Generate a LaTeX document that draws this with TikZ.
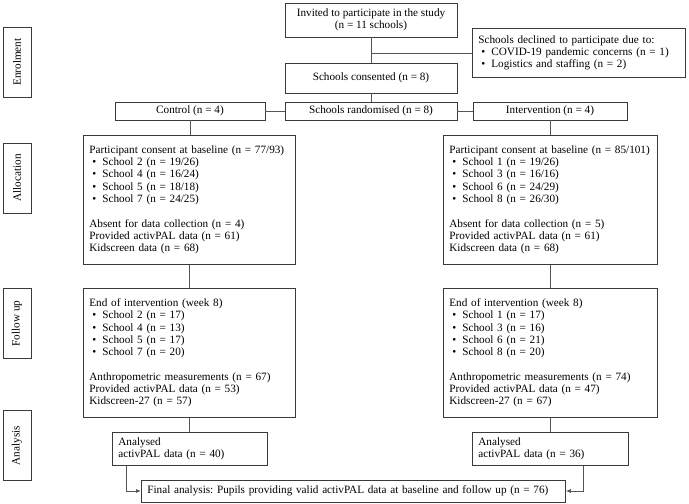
\documentclass[tikz,border=0pt]{standalone}
\usepackage{fontspec}
\setmainfont{Liberation Serif}
\usepackage{xcolor}
\usepackage{tikz}
\usetikzlibrary{arrows.meta,positioning,calc}
\definecolor{edgegray}{HTML}{3A3A3A}
\definecolor{linkgray}{HTML}{555555}
\newcommand{\bul}[1]{\makebox[13pt][l]{\hspace{3pt}\textbullet}#1}
\frenchspacing
\tikzset{
  flowbox/.style={
    rectangle, draw=edgegray, line width=0.8pt, fill=white,
    font=\fontsize{11.2}{12.3}\selectfont, align=center,
    minimum width=#1, inner sep=2pt
  },
  flowbox/.default=172pt,
  listbox/.style={
    rectangle, draw=edgegray, line width=0.8pt, fill=white,
    font=\fontsize{11.2}{12.3}\selectfont, align=left,
    text width=#1, inner xsep=6pt, inner ysep=3pt, anchor=north west
  },
  listbox/.default=200pt,
  stagebox/.style={
    rectangle, draw=edgegray, line width=0.8pt, rotate=90,
    minimum width=70pt, minimum height=28pt,
    font=\fontsize{11.2}{12}\selectfont
  },
  link/.style={draw=linkgray, line width=0.8pt},
  linkarrow/.style={link, -{Latex[length=5pt,width=4pt]}},
}

\begin{document}
\begin{tikzpicture}[x=1pt, y=-1pt]
  \useasboundingbox (0,0) rectangle (689,504);
  % stages
  \node[stagebox] (enrol)  at (17,62)    {Enrolment};
  \node[stagebox] (alloc)  at (17,178)   {Allocation};
  \node[stagebox] (follow) at (17,323.5) {Follow up};
  \node[stagebox] (analys) at (17,445.5) {Analysis};
  % enrolment
  \node[flowbox, minimum height=34pt] (invited) at (371,20) {Invited to participate in the study\\(n = 11 schools)};
  \node[listbox=201pt, minimum height=49pt] (declined) at (472,28) {Schools declined to participate due to:\\
    \bul{COVID-19 pandemic concerns (n = 1)}\\
    \bul{Logistics and staffing (n = 2)}};
  \node[flowbox, minimum height=30pt] (consented) at (371,78) {Schools consented (n = 8)};
  \node[flowbox, minimum height=18pt] (random) at (371,111) {Schools randomised (n = 8)};
  \node[flowbox=150pt, minimum height=18pt] (control) at (190,111) {Control (n = 4)};
  \node[flowbox=154pt, minimum height=18pt] (interv) at (550,111) {Intervention (n = 4)};
  % allocation
  \node[listbox, minimum height=129pt] (partL) at (83,135) {Participant consent at baseline (n = 77/93)\\
    \bul{School 2 (n = 19/26)}\\
    \bul{School 4 (n = 16/24)}\\
    \bul{School 5 (n = 18/18)}\\
    \bul{School 7 (n = 24/25)}\\[12.3pt]
    Absent for data collection (n = 4)\\
    Provided activPAL data (n = 61)\\
    Kidscreen data (n = 68)};
  \node[listbox=202pt, minimum height=129pt] (partR) at (443,135) {Participant consent at baseline (n = 85/101)\\
    \bul{School 1 (n = 19/26)}\\
    \bul{School 3 (n = 16/16)}\\
    \bul{School 6 (n = 24/29)}\\
    \bul{School 8 (n = 26/30)}\\[12.3pt]
    Absent for data collection (n = 5)\\
    Provided activPAL data (n = 61)\\
    Kidscreen data (n = 68)};
  % follow up
  \node[listbox, minimum height=129pt] (fupL) at (83,288) {End of intervention (week 8)\\
    \bul{School 2 (n = 17)}\\
    \bul{School 4 (n = 13)}\\
    \bul{School 5 (n = 17)}\\
    \bul{School 7 (n = 20)}\\[12.3pt]
    Anthropometric measurements (n = 67)\\
    Provided activPAL data (n = 53)\\
    Kidscreen-27 (n = 57)};
  \node[listbox=202pt, minimum height=129pt] (fupR) at (443,288) {End of intervention (week 8)\\
    \bul{School 1 (n = 17)}\\
    \bul{School 3 (n = 16)}\\
    \bul{School 6 (n = 21)}\\
    \bul{School 8 (n = 20)}\\[12.3pt]
    Anthropometric measurements (n = 74)\\
    Provided activPAL data (n = 47)\\
    Kidscreen-27 (n = 67)};
  % analysis
  \node[listbox=143pt, minimum height=33pt] (anaL) at (112,432) {Analysed\\activPAL data (n = 40)};
  \node[listbox=144pt, minimum height=33pt] (anaR) at (472,432) {Analysed\\activPAL data (n = 36)};
  \node[listbox=412pt, minimum height=22pt, anchor=west] (final) at (141,491) {Final analysis: Pupils providing valid activPAL data at baseline and follow up (n = 76)};
  % links
  \draw[link] (invited) -- (consented);
  \draw[link] (invited.south |- declined.west) -- (declined.west);
  \draw[link] (consented) -- (random);
  \draw[link] (random) -- (control);
  \draw[link] (random) -- (interv);
  \draw[link] (control.south) -- (control.south |- partL.north);
  \draw[link] (interv.south) -- (interv.south |- partR.north);
  \foreach \a/\b in {partL/fupL, fupL/anaL, partR/fupR, fupR/anaR} {
    \draw[link] (\a.south) -- (\a.south |- \b.north);
  }
  \draw[linkarrow] ([xshift=14pt]anaL.south west) |- (final.west);
  \draw[linkarrow] ([xshift=-45pt]anaR.south east) |- (final.east);
\end{tikzpicture}
\end{document}
